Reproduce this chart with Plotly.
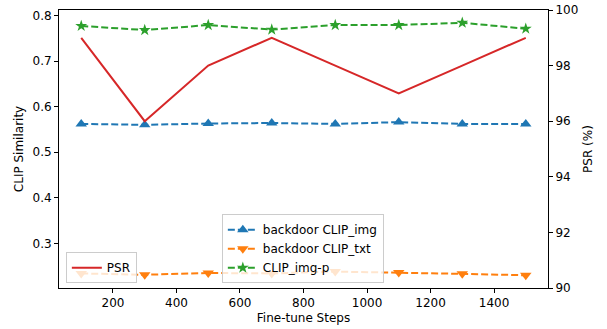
import plotly.graph_objects as go

steps = [100, 300, 500, 700, 900, 1100, 1300, 1500]
clip_img = [0.562, 0.560, 0.563, 0.564, 0.562, 0.566, 0.562, 0.562]
clip_txt = [0.234, 0.231, 0.235, 0.234, 0.238, 0.236, 0.233, 0.230]
clip_img_p = [0.777, 0.768, 0.779, 0.769, 0.779, 0.779, 0.784, 0.771]
psr = [99, 96, 98, 99, 98, 97, 98, 99]

FONT = "DejaVu Sans"
fig = go.Figure()
dash = "7px,3px"
fig.add_trace(go.Scatter(x=steps, y=clip_img, name="backdoor CLIP_img", mode="lines+markers",
                         line=dict(color="#1f77b4", width=2, dash=dash),
                         marker=dict(symbol="triangle-up", size=10, color="#1f77b4"),
                         legend="legend2", showlegend=True))
fig.add_trace(go.Scatter(x=steps, y=clip_txt, name="backdoor CLIP_txt", mode="lines+markers",
                         line=dict(color="#ff7f0e", width=2, dash=dash),
                         marker=dict(symbol="triangle-down", size=10, color="#ff7f0e"),
                         legend="legend2", showlegend=True))
fig.add_trace(go.Scatter(x=steps, y=clip_img_p, name="CLIP_img-p", mode="lines+markers",
                         line=dict(color="#2ca02c", width=2, dash=dash),
                         marker=dict(symbol="star", size=9, color="#2ca02c"),
                         legend="legend2", showlegend=True))
fig.add_trace(go.Scatter(x=steps, y=psr, name="PSR", mode="lines",
                         line=dict(color="#d62728", width=2),
                         yaxis="y2", legend="legend", showlegend=True))

axis_common = dict(showline=True, linecolor="black", linewidth=1, ticks="outside",
                   ticklen=4, tickcolor="black", showgrid=False, zeroline=False,
                   automargin=False,
                   tickfont=dict(size=12, color="black", family=FONT))

fig.update_layout(
    width=607, height=329,
    margin=dict(l=59, r=59, t=10, b=41, autoexpand=False),
    showlegend=True,
    plot_bgcolor="white", paper_bgcolor="white",
    font=dict(family=FONT, size=12, color="black"),
    xaxis=dict(range=[30, 1570], tickvals=[200, 400, 600, 800, 1000, 1200, 1400],
               title=dict(text="Fine-tune Steps", font=dict(size=12), standoff=4),
               mirror=True, **axis_common),
    yaxis=dict(range=[0.202, 0.812], tickvals=[0.3, 0.4, 0.5, 0.6, 0.7, 0.8],
               tickformat=".1f", title=dict(text="CLIP Similarity", font=dict(size=12), standoff=6),
               **axis_common),
    yaxis2=dict(range=[90, 100], tickvals=[90, 92, 94, 96, 98, 100], overlaying="y", side="right",
                title=dict(text="PSR (%)", font=dict(size=12), standoff=6),
                **axis_common),
    legend=dict(x=0.014, y=0.017, xanchor="left", yanchor="bottom",
                bgcolor="rgba(255,255,255,0.8)", bordercolor="#cccccc", borderwidth=1,
                font=dict(size=12, family=FONT)),
    legend2=dict(x=0.333, y=0.017, xanchor="left", yanchor="bottom",
                 bgcolor="rgba(255,255,255,0.8)", bordercolor="#cccccc", borderwidth=1,
                 font=dict(size=12, family=FONT), tracegroupgap=0),
)

fig.write_html("out.html", config={"displayModeBar": False},
               post_script="document.body.style.margin='0';")
